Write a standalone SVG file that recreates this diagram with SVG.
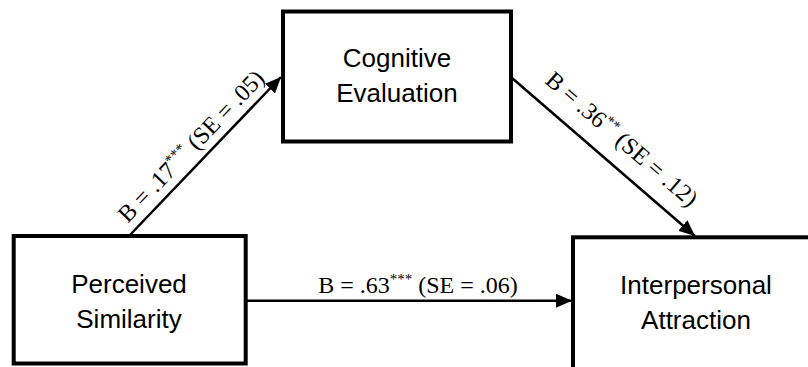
<svg xmlns="http://www.w3.org/2000/svg" width="808" height="367" viewBox="0 0 808 367">
  <style>
    .box { fill: #ffffff; stroke: #000000; stroke-width: 4; }
    .node-text { font-family: "Liberation Sans", Arial, sans-serif; font-size: 26px; fill: #000000; text-anchor: middle; }
    .edge { stroke: #000000; stroke-width: 2.5; fill: none; marker-end: url(#arrow); }
    .label { font-family: "Liberation Serif", "Times New Roman", serif; font-size: 24px; fill: #000000; text-anchor: middle; }
    .sup { font-size: 15px; }
  </style>
  <defs>
    <marker id="arrow" viewBox="0 0 16 14" refX="16" refY="7" markerWidth="16" markerHeight="14" orient="auto" markerUnits="userSpaceOnUse">
      <path d="M0,0 L16,7 L0,14 Z" fill="#000000"/>
    </marker>
  </defs>
  <rect width="808" height="367" fill="#ffffff"/>

  <g id="connectors">
    <line class="edge" x1="129" y1="236" x2="281" y2="77"/>
    <line class="edge" x1="512" y1="78" x2="695" y2="236"/>
    <line class="edge" x1="246" y1="300.7" x2="572" y2="300.7"/>
  </g>

  <g id="labels">
    <text class="label" transform="translate(196.8,151.5) rotate(-46.3)">B = .17<tspan class="sup" dy="-9">***</tspan><tspan dy="9"> (SE = .05)</tspan></text>
    <text class="label" transform="translate(616.7,145.1) rotate(40.8)">B = .36<tspan class="sup" dy="-9">**</tspan><tspan dy="9"> (SE = .12)</tspan></text>
    <text class="label" x="418" y="293.3">B = .63<tspan class="sup" dy="-9">***</tspan><tspan dy="9"> (SE = .06)</tspan></text>
  </g>

  <g id="node-cognitive">
    <rect class="box" x="283" y="11.5" width="228" height="130"/>
    <text class="node-text" x="397" y="66.7">Cognitive</text>
    <text class="node-text" x="397" y="101.7">Evaluation</text>
  </g>

  <g id="node-perceived">
    <rect class="box" x="13.7" y="236" width="232" height="127.5"/>
    <text class="node-text" x="129" y="292.7">Perceived</text>
    <text class="node-text" x="129" y="328">Similarity</text>
  </g>

  <g id="node-interpersonal">
    <rect class="box" x="573" y="237.3" width="246" height="140"/>
    <text class="node-text" x="696" y="294">Interpersonal</text>
    <text class="node-text" x="696" y="329.3">Attraction</text>
  </g>
</svg>
